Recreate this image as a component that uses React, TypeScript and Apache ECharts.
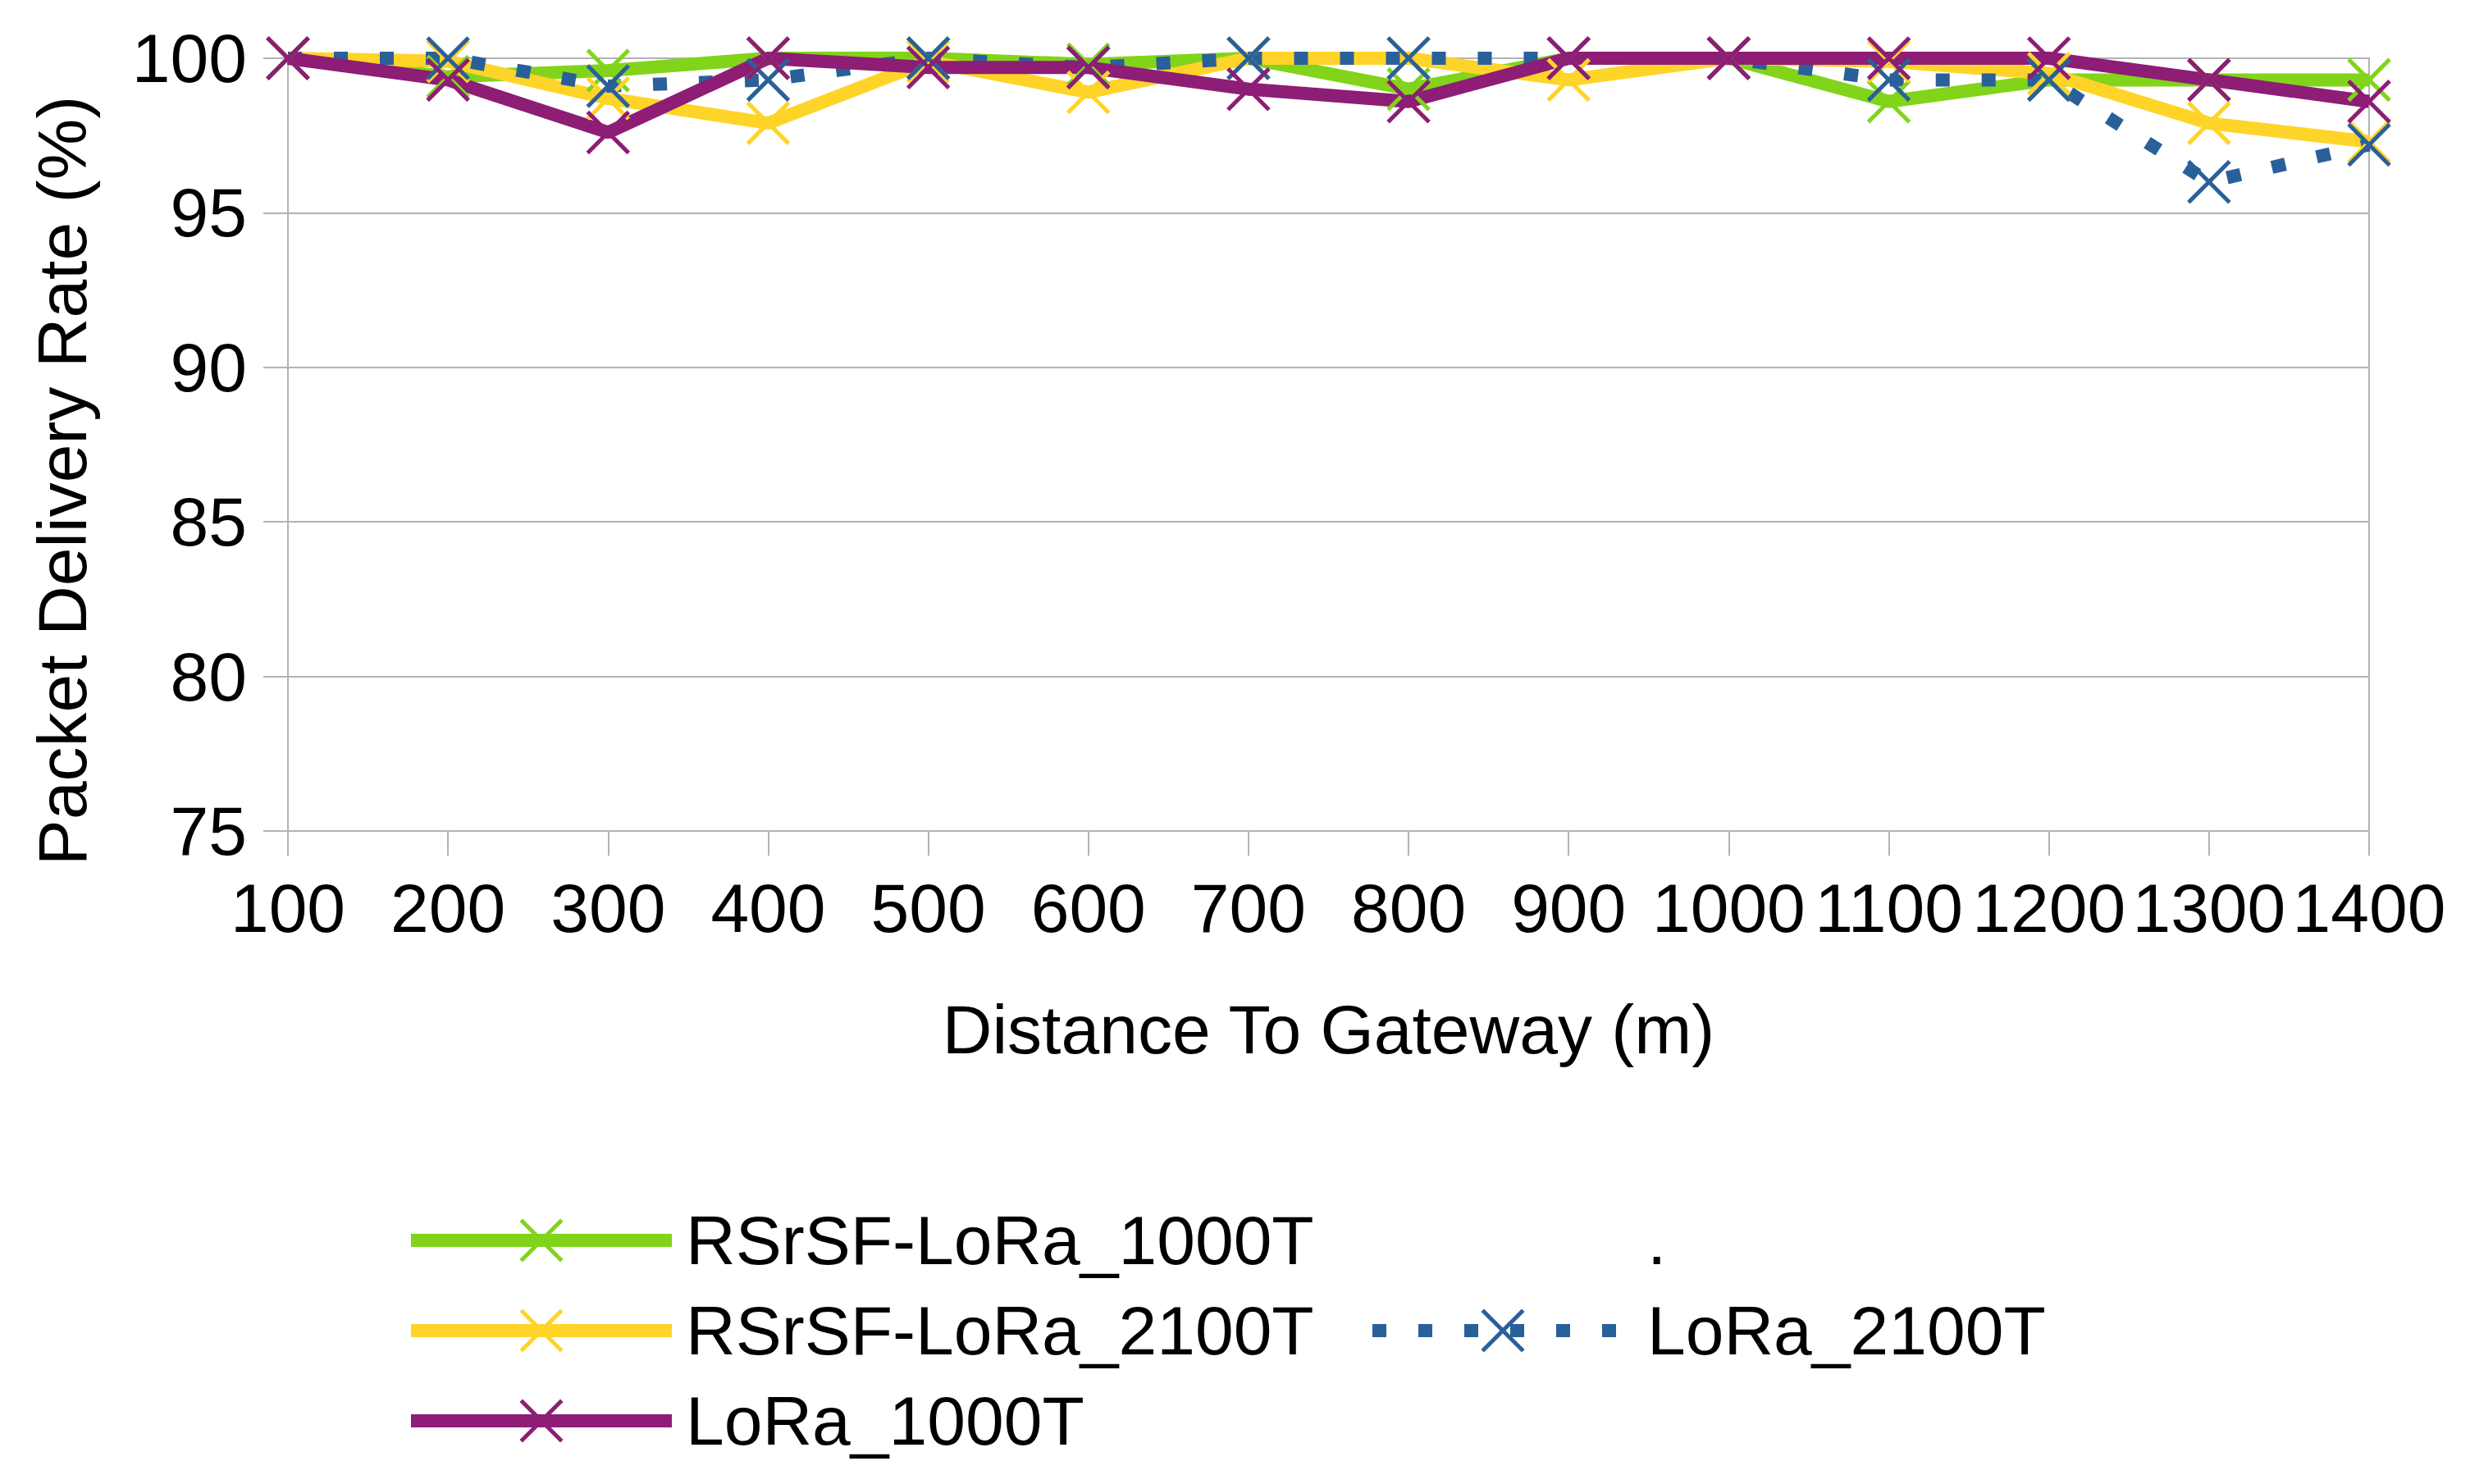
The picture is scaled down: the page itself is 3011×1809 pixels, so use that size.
import React, { useEffect, useRef } from "react";
import * as echarts from "echarts";

const distances = ["100", "200", "300", "400", "500", "600", "700", "800", "900", "1000", "1100", "1200", "1300", "1400"];
const rsrsf1000 = [100, 99.4, 99.6, 100, 100, 99.8, 100, 99.0, 100, 100, 98.6, 99.3, 99.3, 99.3];
const rsrsf2100 = [100, 99.9, 98.7, 97.9, 99.9, 98.9, 100, 100, 99.3, 100, 99.9, 99.5, 97.9, 97.3];
const lora2100 = [100, 100, 99.1, 99.3, 100, 99.7, 100, 100, 100, 100, 99.3, 99.3, 96.0, 97.2];
const lora1000 = [100, 99.3, 97.6, 100, 99.7, 99.7, 99.0, 98.6, 100, 100, 100, 100, 99.3, 98.6];
const yTicks = { min: 75, max: 100, interval: 5 };

const FONT = "Liberation Sans, Arial, sans-serif";
const X_SYMBOL = "path://M0,0L10,10M10,0L0,10";

function lineSeries(name: string, data: number[], color: string, dashed = false) {
  return {
    name,
    type: "line",
    data,
    color,
    symbol: X_SYMBOL,
    symbolSize: 50,
    showAllSymbol: true,
    lineStyle: { color, width: 16, type: dashed ? [17, 39] : "solid", cap: "butt" },
    itemStyle: { color, borderColor: color, borderWidth: 5 },
    emphasis: { disabled: true },
  };
}

export default function App() {
  const ref = useRef<HTMLDivElement>(null);
  useEffect(() => {
    if (!ref.current) return;
    const chart = echarts.init(ref.current, undefined, { renderer: "svg" });
    const legendCommon = {
      orient: "horizontal",
      itemWidth: 318,
      itemHeight: 62,
      padding: 0,
      selectedMode: false,
      textStyle: { fontSize: 84, fontFamily: FONT, color: "#000", lineHeight: 84, padding: [0, 0, 0, 12] },
      lineStyle: { width: 16 },
      itemStyle: { borderWidth: 5 },
    };
    const transparent = "rgba(0,0,0,0)";
    chart.setOption({
      animation: false,
      backgroundColor: "#fff",
      grid: { left: 351, right: 123, top: 71, height: 942, show: true, borderColor: "#b3b3b3", borderWidth: 2 },
      xAxis: {
        type: "category",
        data: distances,
        boundaryGap: false,
        name: "Distance To Gateway (m)",
        nameLocation: "middle",
        nameGap: 200,
        nameTextStyle: { fontSize: 84, fontFamily: FONT, color: "#000", lineHeight: 84 },
        axisLine: { show: true, lineStyle: { color: "#b3b3b3", width: 2 } },
        axisTick: { show: true, length: 30, lineStyle: { color: "#b3b3b3", width: 2 } },
        axisLabel: { fontSize: 84, fontFamily: FONT, color: "#000", margin: 52, lineHeight: 84, interval: 0 },
        splitLine: { show: false },
      },
      yAxis: {
        type: "value",
        min: yTicks.min,
        max: yTicks.max,
        interval: yTicks.interval,
        name: "Packet Delivery Rate (%)",
        nameLocation: "middle",
        nameGap: 233,
        nameTextStyle: { fontSize: 84, fontFamily: FONT, color: "#000", lineHeight: 84, padding: [0, 88, 0, 0] },
        axisLine: { show: true, lineStyle: { color: "#b3b3b3", width: 2 } },
        axisTick: { show: true, length: 30, lineStyle: { color: "#b3b3b3", width: 2 } },
        axisLabel: { fontSize: 84, fontFamily: FONT, color: "#000", margin: 50 },
        splitLine: { show: true, lineStyle: { color: "#b3b3b3", width: 2 } },
      },
      legend: [
        { ...legendCommon, data: ["RSrSF-LoRa_1000T"], left: 493, top: 1470 },
        { ...legendCommon, data: ["."], left: 1665, top: 1470 },
        { ...legendCommon, data: ["RSrSF-LoRa_2100T"], left: 493, top: 1580 },
        { ...legendCommon, data: ["LoRa_2100T"], left: 1665, top: 1580 },
        { ...legendCommon, data: ["LoRa_1000T"], left: 493, top: 1690 },
      ],
      series: [
        lineSeries("RSrSF-LoRa_1000T", rsrsf1000, "#81d41a"),
        lineSeries("RSrSF-LoRa_2100T", rsrsf2100, "#ffd428"),
        lineSeries("LoRa_2100T", lora2100, "#2a6099", true),
        lineSeries("LoRa_1000T", lora1000, "#8d1d75"),
        {
          name: ".",
          type: "line",
          data: [],
          symbol: "none",
          color: transparent,
          lineStyle: { color: transparent, width: 0 },
          itemStyle: { color: transparent, borderColor: transparent },
        },
      ],
    });
    return () => chart.dispose();
  }, []);
  return (
    <div
      ref={ref}
      style={{ position: "fixed", left: 0, top: 0, width: 3011, height: 1809, background: "#fff" }}
    />
  );
}
